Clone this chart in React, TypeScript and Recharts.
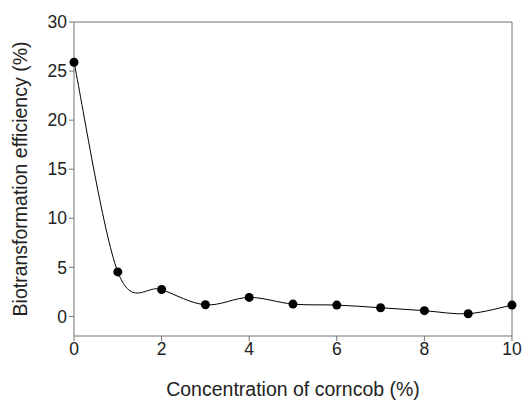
import React from 'react';
import { LineChart, Line, XAxis, YAxis, ReferenceLine } from 'recharts';

const concentration = [0, 1, 2, 3, 4, 5, 6, 7, 8, 9, 10];
const efficiency = [25.9, 4.53, 2.74, 1.18, 1.93, 1.25, 1.15, 0.88, 0.58, 0.27, 1.15];
const xTicks = [0, 2, 4, 6, 8, 10];
const yTicks = [0, 5, 10, 15, 20, 25, 30];

const data = concentration.map((c, i) => ({ c, e: efficiency[i] }));

const FONT = '"Liberation Sans", Arial, sans-serif';
const AXIS = '#737373';

// uniform Catmull-Rom spline, like SigmaPlot's smooth line
const catmullRom = (context: any) => {
  let pts: [number, number][] = [];
  return {
    areaStart() {},
    areaEnd() {},
    lineStart() {
      pts = [];
    },
    point(x: number, y: number) {
      pts.push([+x, +y]);
    },
    lineEnd() {
      if (!pts.length) return;
      context.moveTo(pts[0][0], pts[0][1]);
      for (let i = 0; i < pts.length - 1; i++) {
        const p0 = pts[i - 1] || pts[i];
        const p1 = pts[i];
        const p2 = pts[i + 1];
        const p3 = pts[i + 2] || p2;
        context.bezierCurveTo(
          p1[0] + (p2[0] - p0[0]) / 6,
          p1[1] + (p2[1] - p0[1]) / 6,
          p2[0] - (p3[0] - p1[0]) / 6,
          p2[1] - (p3[1] - p1[1]) / 6,
          p2[0],
          p2[1]
        );
      }
    },
  };
};

export default function App() {
  return (
    <div style={{ position: 'absolute', left: 0, top: 0, width: 523, height: 401, background: '#fff' }}>
      <LineChart width={523} height={401} data={data} margin={{ top: 22, right: 11, bottom: 0, left: 0 }}>
        <XAxis
          dataKey="c"
          type="number"
          domain={[0, 10]}
          ticks={xTicks}
          stroke={AXIS}
          tickSize={5}
          tick={{ fill: '#222', fontSize: 17.5, fontFamily: FONT }}
          height={65}
          label={{
            content: (p: any) => (
              <text
                x={p.viewBox.x + p.viewBox.width / 2}
                y={396}
                textAnchor="middle"
                fontSize={19.5}
                fontFamily={FONT}
                fill="#222"
              >
                Concentration of corncob (%)
              </text>
            ),
          }}
        />
        <YAxis
          type="number"
          domain={[-2, 30]}
          ticks={yTicks}
          stroke={AXIS}
          tickSize={5}
          width={74}
          tick={{ fill: '#222', fontSize: 17.5, fontFamily: FONT }}
          label={{
            content: (p: any) => {
              const cy = p.viewBox.y + p.viewBox.height / 2;
              return (
                <text
                  x={27}
                  y={cy}
                  transform={`rotate(-90 27 ${cy})`}
                  textAnchor="middle"
                  fontSize={19.5}
                  fontFamily={FONT}
                  fill="#222"
                >
                  Biotransformation efficiency (%)
                </text>
              );
            },
          }}
        />
        <ReferenceLine y={30} stroke={AXIS} />
        <ReferenceLine x={10} stroke={AXIS} />
        <Line
          dataKey="e"
          type={catmullRom as any}
          stroke="#000"
          strokeWidth={1}
          dot={{ r: 4.5, fill: '#000', stroke: '#000', strokeWidth: 0 }}
          isAnimationActive={false}
        />
      </LineChart>
    </div>
  );
}
